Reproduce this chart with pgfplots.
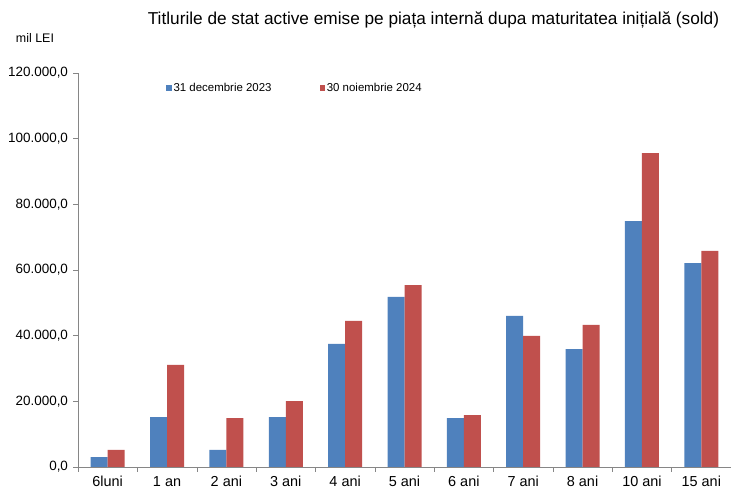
\documentclass[border=0pt]{standalone}
\usepackage{fontspec}
\setmainfont{Liberation Sans}
\usepackage{pgfplots}
\pgfplotsset{compat=1.18}
\definecolor{serblue}{HTML}{4F81BD}
\definecolor{serred}{HTML}{C0504D}
\definecolor{axgray}{HTML}{868686}

\begin{document}
\begin{tikzpicture}
\begin{axis}[
 at={(0,0)},anchor=south west,
 scale only axis,width=653bp,height=394bp,
 ybar=0pt,bar width=17bp,
 xmin=-0.5,xmax=10.5,ymin=0,ymax=120000,
 xtick={-0.5,0.5,...,10.5},xticklabels={},
 extra x ticks={0,...,10},
 extra x tick labels={6luni,1 an,2 ani,3 ani,4 ani,5 ani,6 ani,7 ani,8 ani,10 ani,15 ani},
 extra x tick style={major tick length=0pt,
   tick label style={font=\fontsize{14.5}{16}\selectfont,black,yshift=-6bp}},
 ytick={0,20000,...,120000},
 scaled y ticks=false,
 tick align=outside,major tick length=4.5bp,
 axis lines*=left,axis line style={axgray,-},
 every tick/.style={axgray},
 axis on top,
 yticklabel style={font=\fontsize{13.5}{15}\selectfont,black,xshift=-2bp,
   /pgf/number format/.cd,fixed,fixed zerofill,precision=1,use comma,1000 sep={.},assume math mode=true},
 legend columns=2,
 legend style={draw=none,fill=none,at={(0.135,0.962)},anchor=west,
   font=\fontsize{11.5}{13}\selectfont,
   /tikz/every even column/.append style={column sep=46bp},
   inner sep=0pt},
 legend image code/.code={\fill[#1] (0bp,-2.6bp) rectangle (5.2bp,2.6bp);},
 clip=false,
]
\addplot[fill=serblue,draw=none] coordinates {
 (0,3000) (1,15200) (2,5200) (3,15200) (4,37500) (5,51800)
 (6,14900) (7,46000) (8,35900) (9,74900) (10,62100)};
\addplot[fill=serred,draw=none] coordinates {
 (0,5200) (1,31100) (2,14900) (3,20100) (4,44500) (5,55400)
 (6,15800) (7,39900) (8,43300) (9,95600) (10,65800)};
\legend{31 decembrie 2023,30 noiembrie 2024}
\end{axis}
\node[font=\fontsize{17.3}{19}\selectfont] at (355.5bp,447bp) {Titlurile de stat active emise pe piața internă dupa maturitatea inițială (sold)};
\node[font=\fontsize{12.5}{14}\selectfont] at (-43bp,429bp) {mil LEI};
\pgfresetboundingbox
\useasboundingbox (-78bp,-23bp) rectangle (653bp,467bp);
\end{tikzpicture}
\end{document}
